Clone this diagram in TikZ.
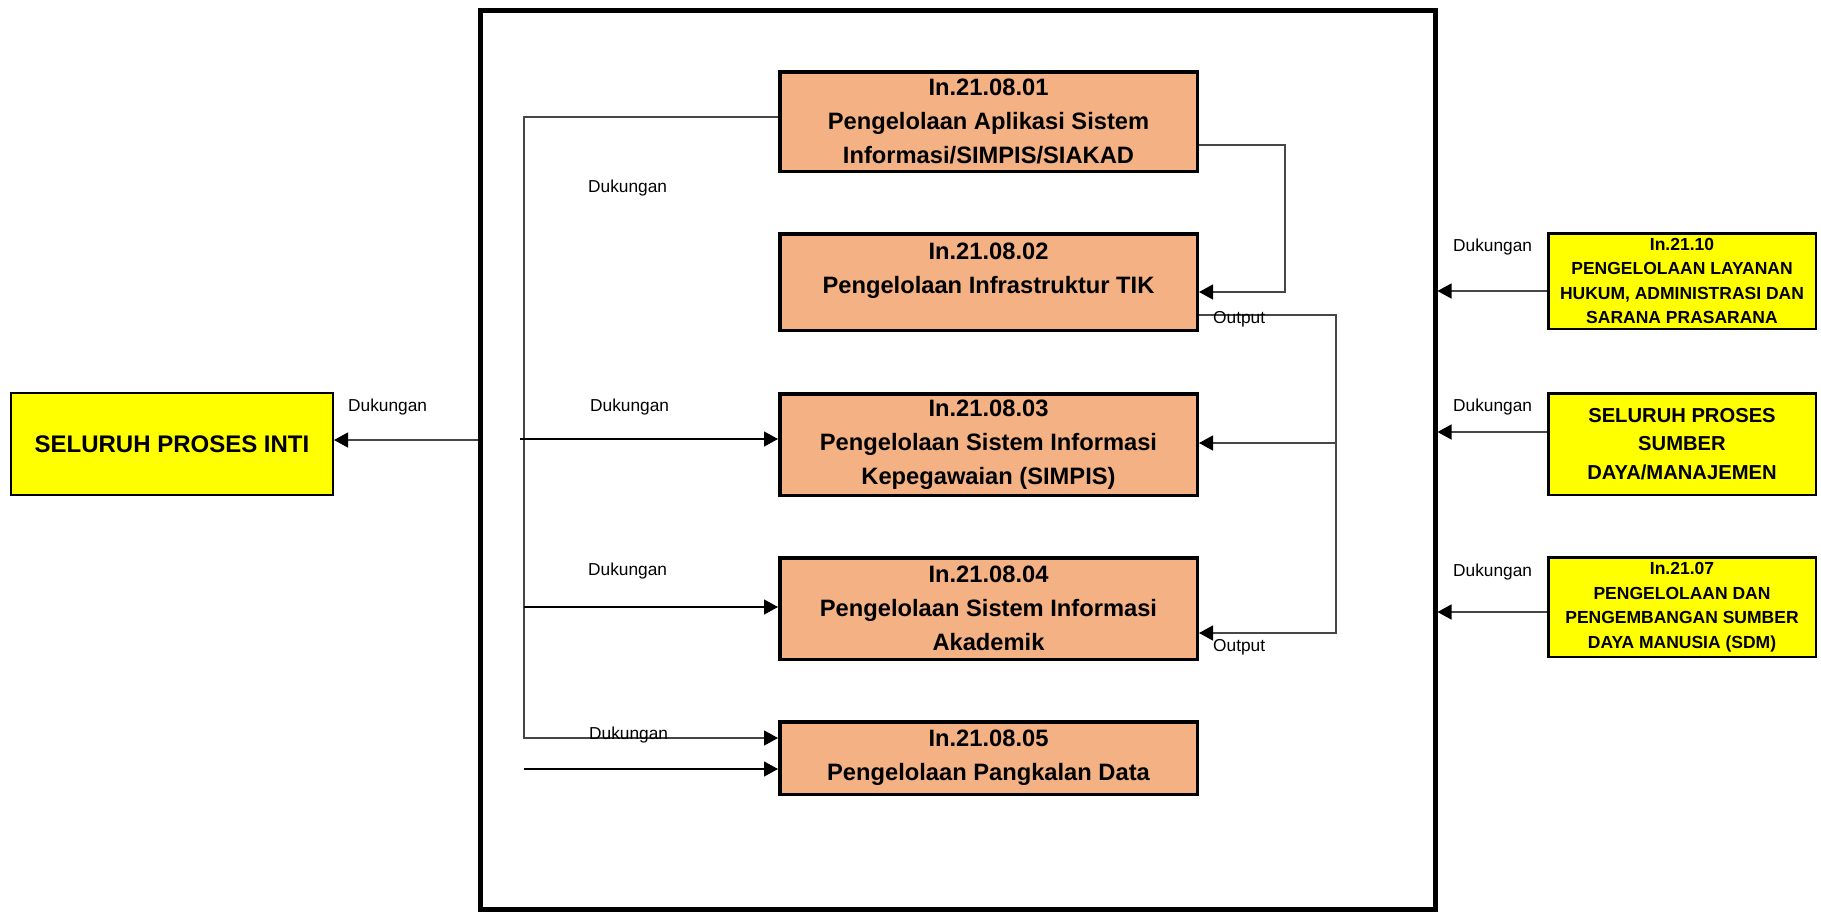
\documentclass[tikz,border=0pt]{standalone}
\usepackage{fontspec}
\setmainfont{Liberation Sans}
\usetikzlibrary{arrows.meta}
\definecolor{boxorange}{RGB}{244,177,131}
\definecolor{boxyellow}{RGB}{255,255,0}
\definecolor{linegray}{RGB}{70,70,70}
\begin{document}
\begin{tikzpicture}[x=1pt,y=-1pt,
  obox/.style={draw=black, line width=3.5pt, fill=boxorange, minimum width=417.5pt, inner sep=0pt, align=center, font=\fontsize{23.7}{34}\selectfont\bfseries},
  otxt/.style={inner sep=0pt, align=center, font=\fontsize{23.7}{34}\selectfont\bfseries},
  ybox/.style={draw=black, line width=2.5pt, fill=boxyellow, minimum width=267.5pt, inner sep=0pt, align=center},
  frm/.style={draw=black, line width=5pt, minimum width=955pt, minimum height=899pt, inner sep=0pt},
  lbl/.style={anchor=west, inner sep=0pt, font=\fontsize{17.3}{20}\selectfont},
  arr/.style={line width=1.3pt, draw=black, -{Triangle[length=14pt,width=15pt]}},
  garr/.style={line width=1.3pt, draw=linegray, -{Triangle[length=14pt,width=15pt,color=black]}},
]
\useasboundingbox (0,0) rectangle (1821,914);

% main frame
\node[frm] (frame) at (957.5,459.5) {};

% orange process boxes
\node[obox, minimum height=99.5pt] (b1) at (988.5,121.5) {In.21.08.01\\Pengelolaan Aplikasi Sistem\\Informasi/SIMPIS/SIAKAD};
\node[obox, minimum height=96.5pt] (b2) at (988.5,282) {};
\node[otxt] (b2t) at (988.5,271) {In.21.08.02\\Pengelolaan Infrastruktur TIK};
\node[obox, minimum height=101.5pt] (b3) at (988.5,444.5) {In.21.08.03\\Pengelolaan Sistem Informasi\\Kepegawaian (SIMPIS)};
\node[obox, minimum height=101.5pt] (b4) at (988.5,608.5) {In.21.08.04\\Pengelolaan Sistem Informasi\\Akademik};
\node[obox, minimum height=72.5pt] (b5) at (988.5,758) {In.21.08.05\\Pengelolaan Pangkalan Data};

% left yellow box
\node[ybox, line width=2pt, minimum width=322pt, minimum height=102pt, font=\fontsize{24}{30}\selectfont\bfseries] (inti) at (172,444) {SELURUH PROSES INTI};

% right yellow boxes
\node[ybox, minimum height=95.5pt, font=\fontsize{17.5}{24.2}\selectfont\bfseries] (ya) at (1682,281) {In.21.10\\PENGELOLAAN LAYANAN\\HUKUM, ADMINISTRASI DAN\\SARANA PRASARANA};
\node[ybox, minimum height=101.5pt, font=\fontsize{20.2}{28.5}\selectfont\bfseries] (yb) at (1682,444) {SELURUH PROSES\\SUMBER\\DAYA/MANAJEMEN};
\node[ybox, minimum height=99.5pt, font=\fontsize{17.5}{24.5}\selectfont\bfseries] (yc) at (1682,607) {In.21.07\\PENGELOLAAN DAN\\PENGEMBANGAN SUMBER\\DAYA MANUSIA (SDM)};

% coordinates
\coordinate (busTop) at (524,117);
\coordinate (busBot) at (524,738);
\coordinate (s3) at (520,439);
\coordinate (s4) at (524,607);
\coordinate (s5) at (524,769);
\coordinate (fl) at (475,440);
\coordinate (f1) at (1285,145);
\coordinate (f1b) at (1285,292);
\coordinate (o1) at (1336,315);
\coordinate (o2) at (1336,633);
\coordinate (o3) at (1336,443);
\coordinate (ra) at (1547,291);
\coordinate (rb) at (1547,432);
\coordinate (rc) at (1547,612);

% left bus
\draw[garr] (b1.west |- busTop) -- (busTop) -- (busBot) -- (b5.west |- busBot);
\draw[arr] (s3) -- (b3.west |- s3);
\draw[arr] (s4) -- (b4.west |- s4);
\draw[arr] (s5) -- (b5.west |- s5);
\draw[garr] (frame.west |- fl) -- (inti.east |- fl);

% right feedback lines
\draw[garr] (b1.east |- f1) -- (f1) -- (f1b) -- (b2.east |- f1b);
\draw[garr] (b2.east |- o1) -- (o1) -- (o2) -- (b4.east |- o2);
\draw[garr] (o3) -- (b3.east |- o3);

% right inputs
\draw[garr] (ya.west |- ra) -- (frame.east |- ra);
\draw[garr] (yb.west |- rb) -- (frame.east |- rb);
\draw[garr] (yc.west |- rc) -- (frame.east |- rc);

% labels
\node[lbl] (d1) at (588,188) {Dukungan};
\node[lbl] (d3) at (590,407) {Dukungan};
\node[lbl] (d4) at (588,571) {Dukungan};
\node[lbl] (d5) at (589,735) {Dukungan};
\node[lbl] (dl) at (348,407) {Dukungan};
\node[lbl] (dra) at (1453,247) {Dukungan};
\node[lbl] (drb) at (1453,407) {Dukungan};
\node[lbl] (drc) at (1453,572) {Dukungan};
\node[lbl] (out1) at (1213,319) {Output};
\node[lbl] (out2) at (1213,647) {Output};
\end{tikzpicture}
\end{document}
